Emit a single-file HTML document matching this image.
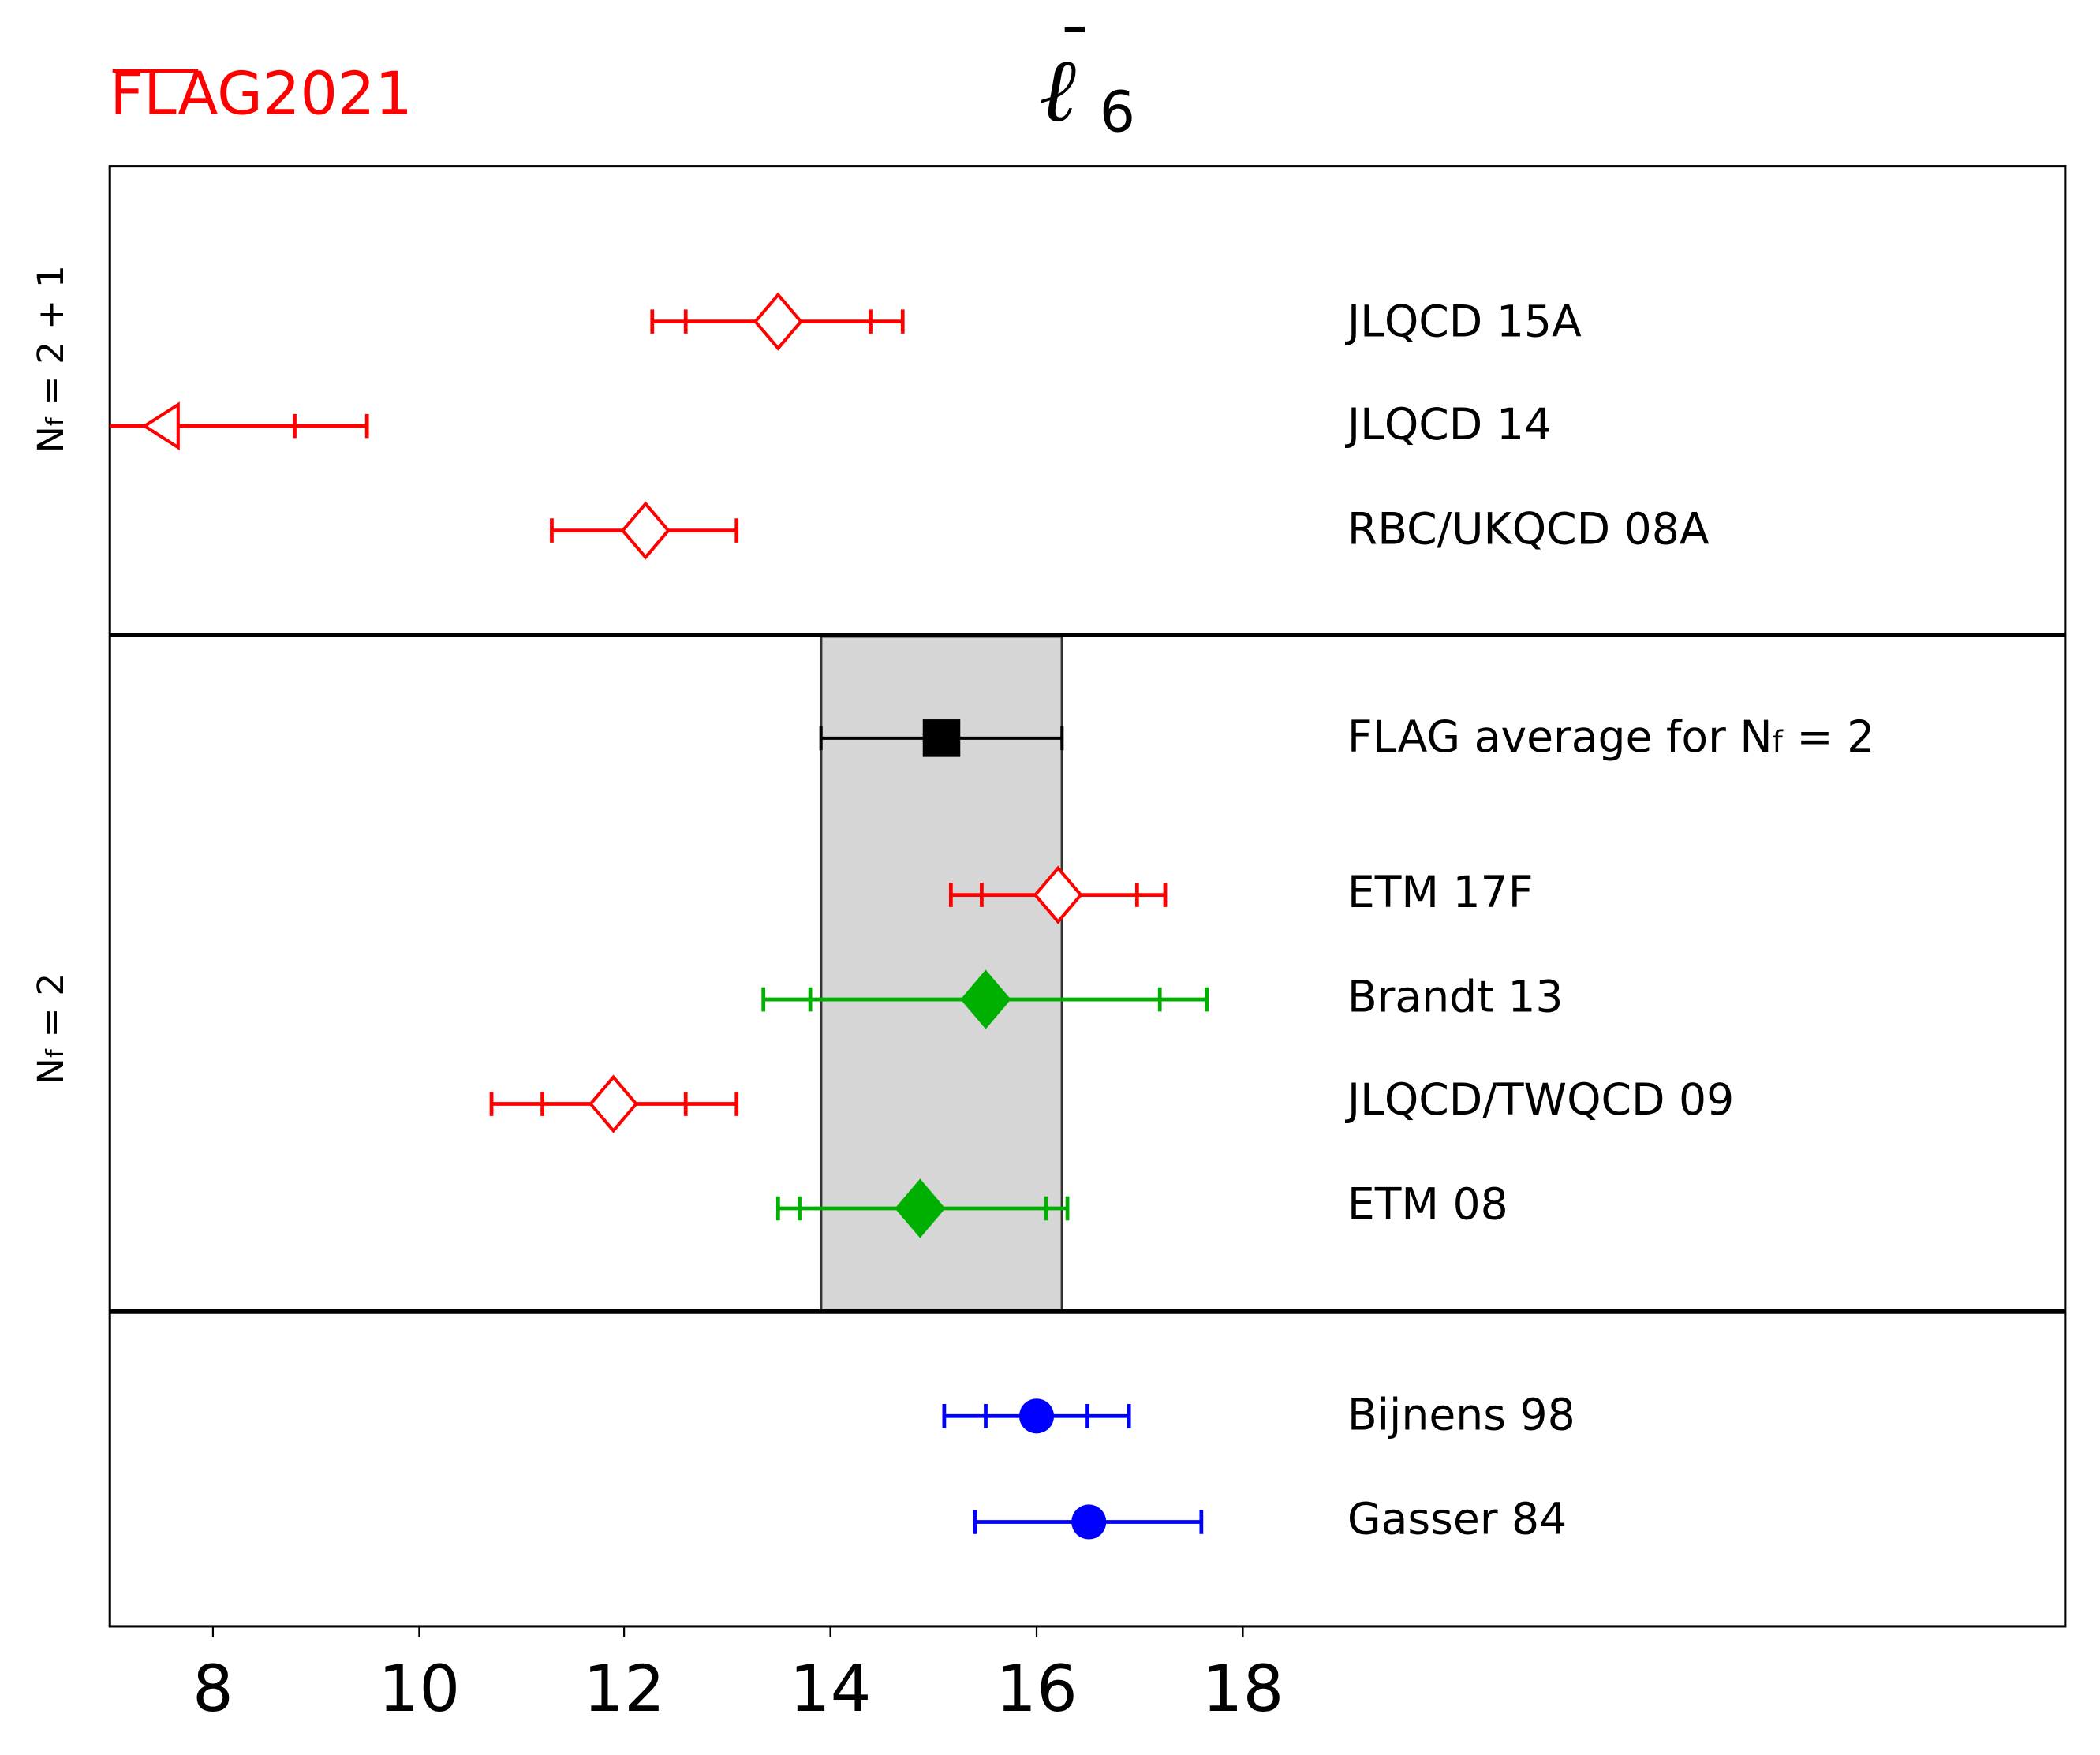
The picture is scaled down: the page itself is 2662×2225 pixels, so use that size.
<!DOCTYPE html>
<html><head><meta charset="utf-8"><style>html,body{margin:0;padding:0;background:#fff}svg{display:block}</style></head>
<body>
<svg width="2662" height="2225" viewBox="0 0 1568 1310" preserveAspectRatio="none" xmlns="http://www.w3.org/2000/svg" font-family="DejaVu Sans, Liberation Sans, sans-serif">
<rect width="1568" height="1310" fill="#fff"/>
<!-- band -->
<rect x="613" y="475" width="180" height="504" fill="#d6d6d6" stroke="#333" stroke-width="2"/>
<!-- axes -->
<rect x="82" y="124" width="1460" height="1090" fill="none" stroke="#000" stroke-width="1.8"/>
<line x1="82" y1="474" x2="1542" y2="474" stroke="#000" stroke-width="3.5"/>
<line x1="82" y1="979" x2="1542" y2="979" stroke="#000" stroke-width="3.5"/>
<!-- ticks -->
<g stroke="#000" stroke-width="1.3">
<line x1="159" y1="1214" x2="159" y2="1222"/><line x1="313" y1="1214" x2="313" y2="1222"/><line x1="466" y1="1214" x2="466" y2="1222"/><line x1="620" y1="1214" x2="620" y2="1222"/><line x1="774" y1="1214" x2="774" y2="1222"/><line x1="928" y1="1214" x2="928" y2="1222"/>
</g>
<g font-size="48" text-anchor="middle" fill="#000">
<text x="159" y="1277">8</text><text x="313" y="1277">10</text><text x="466" y="1277">12</text><text x="620" y="1277">14</text><text x="774" y="1277">16</text><text x="928" y="1277">18</text>
</g>
<!-- titles -->
<text x="82" y="85" font-size="44" fill="#f00" textLength="226" lengthAdjust="spacingAndGlyphs">FLAG2021</text>
<line x1="84" y1="53" x2="148" y2="53" stroke="#f00" stroke-width="2.5"/>
<text x="776" y="90" font-size="66" font-style="italic" font-family="DejaVu Serif, Liberation Serif, serif">ℓ</text>
<rect x="795" y="20" width="15" height="4" fill="#000"/>
<text x="821" y="98" font-size="42">6</text>
<!-- side labels -->
<text transform="translate(47,268) rotate(-90)" font-size="27" text-anchor="middle">N<tspan font-size="18">f</tspan> = 2 + 1</text>
<text transform="translate(47,768) rotate(-90)" font-size="27" text-anchor="middle">N<tspan font-size="18">f</tspan> = 2</text>
<!-- labels -->
<g font-size="32.5" fill="#000">
<text x="1006" y="251">JLQCD 15A</text>
<text x="1006" y="328">JLQCD 14</text>
<text x="1006" y="406">RBC/UKQCD 08A</text>
<text x="1006" y="561">FLAG average for N<tspan font-size="22">f</tspan> = 2</text>
<text x="1006" y="677">ETM 17F</text>
<text x="1006" y="755">Brandt 13</text>
<text x="1006" y="832">JLQCD/TWQCD 09</text>
<text x="1006" y="910">ETM 08</text>
<text x="1006" y="1067">Bijnens 98</text>
<text x="1006" y="1145">Gasser 84</text>
</g>
<!-- data -->
<g stroke="#f00" stroke-width="2.8" fill="none">
<line x1="487" y1="240" x2="674" y2="240"/><path d="M487 231v18M512 231v18M650 231v18M674 231v18"/>
<line x1="82" y1="318" x2="274" y2="318"/><path d="M220 309v18M274 309v18"/>
<line x1="412" y1="396" x2="550" y2="396"/><path d="M412 387v18M550 387v18"/>
<line x1="710" y1="668" x2="870" y2="668"/><path d="M710 659v18M733 659v18M849 659v18M870 659v18"/>
<line x1="367" y1="824" x2="550" y2="824"/><path d="M367 815v18M405 815v18M512 815v18M550 815v18"/>
</g>
<g stroke="#f00" stroke-width="2.4" fill="#fff">
<path d="M581 220L598 240L581 260L564 240Z"/>
<path d="M108 318L133 302L133 334Z"/>
<path d="M482 376L499 396L482 416L465 396Z"/>
<path d="M790 648L807 668L790 688L773 668Z"/>
<path d="M458 804L475 824L458 844L441 824Z"/>
</g>
<g stroke="#000" stroke-width="2.4"><line x1="613" y1="551" x2="793" y2="551"/><path d="M613 542v18M793 542v18"/></g>
<rect x="689" y="537" width="28" height="28" fill="#000"/>
<g stroke="#00b000" stroke-width="2.8" fill="#00b000">
<line x1="570" y1="746" x2="901" y2="746"/><path d="M570 737v18M605 737v18M866 737v18M901 737v18"/>
<path d="M736 726L753 746L736 766L719 746Z"/>
<line x1="581" y1="902" x2="797" y2="902"/><path d="M581 893v18M597 893v18M781 893v18M797 893v18"/>
<path d="M687 882L704 902L687 922L670 902Z"/>
</g>
<g stroke="#00f" stroke-width="2.8" fill="#00f">
<line x1="705" y1="1057" x2="843" y2="1057"/><path d="M705 1048v18M736 1048v18M812 1048v18M843 1048v18"/>
<circle cx="774" cy="1057" r="13" stroke="none"/>
<line x1="728" y1="1136" x2="897" y2="1136"/><path d="M728 1127v18M897 1127v18"/>
<circle cx="813" cy="1136" r="13" stroke="none"/>
</g>
</svg>
</body></html>
